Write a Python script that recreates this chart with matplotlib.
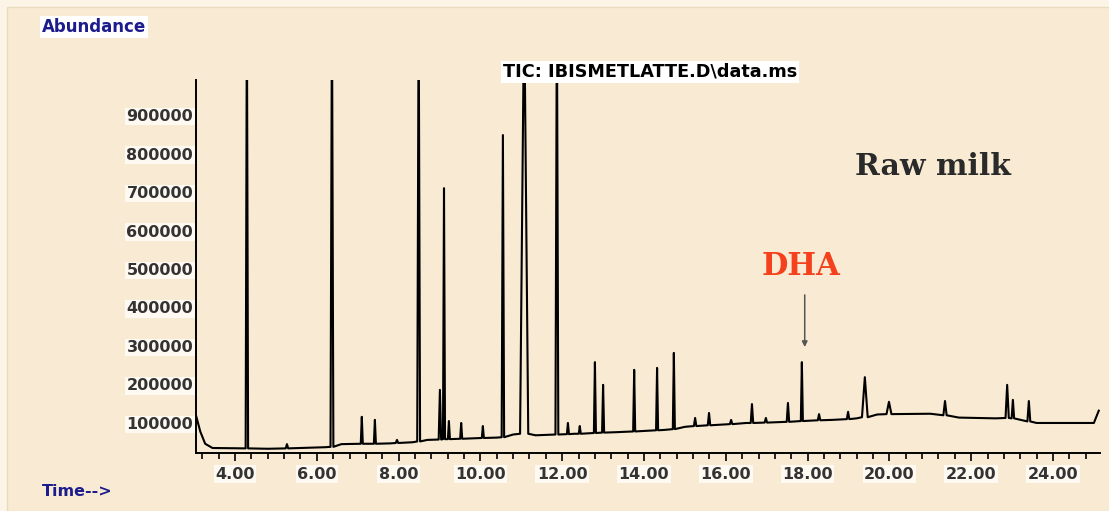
import numpy as np
import matplotlib
matplotlib.use("Agg")
import matplotlib.pyplot as plt
from matplotlib.patches import Rectangle
from matplotlib.ticker import MultipleLocator, FormatStrFormatter

# Chromatogram (time in min, abundance in counts)
# baseline points between the peaks
base_time = [3.05, 3.15, 3.27, 3.45, 4.8, 6.2, 6.6, 7.8, 8.35, 8.7, 9.8, 10.4,
             10.8, 11.35, 12.3, 13.3, 14.5, 15.0, 16.5, 17.7, 18.6, 19.2, 19.7,
             21.0, 21.7, 22.6, 23.6, 25.0, 25.12]
base_value = [118000, 78000, 46000, 35000, 33000, 37000, 45000, 47000, 50000,
              56000, 60000, 62000, 70000, 68000, 72000, 76000, 82000, 90000,
              100000, 104000, 108000, 112000, 122000, 124000, 114000, 112000,
              100000, 100000, 132000]

OFF_SCALE = 1200000  # peaks that run off the top of the plot

peak_time = [4.29, 5.27, 6.37, 7.10, 7.42, 7.96, 8.49, 9.01, 9.11, 9.23, 9.53,
             10.06, 10.55, 11.07, 11.87, 12.14, 12.43, 12.80, 13.00, 13.76,
             14.32, 14.73, 15.25, 15.59, 16.13, 16.64, 16.98, 17.52, 17.86,
             18.28, 18.99, 19.40, 19.99, 21.36, 22.88, 23.02, 23.41]
peak_height = [OFF_SCALE, 45000, OFF_SCALE, 116000, 108000, 56000, OFF_SCALE,
               186000, 710000, 105000, 100000, 92000, 848000, OFF_SCALE,
               OFF_SCALE, 100000, 92000, 258000, 199000, 238000, 243000,
               282000, 113000, 126000, 108000, 149000, 113000, 152000, 258000,
               123000, 129000, 219000, 155000, 157000, 199000, 160000, 157000]
peak_base = [34000, 34000, 38000, 46000, 46000, 48000, 52000, 57000, 58000,
             58000, 59000, 61000, 63000, 72000, 70000, 71000, 72000, 74000,
             75000, 78000, 81000, 84000, 92000, 94000, 97000, 100000, 101000,
             103000, 105000, 107000, 110000, 115000, 123000, 120000, 113000,
             112000, 104000]
peak_halfwidth = [0.03, 0.03, 0.035, 0.025, 0.025, 0.03, 0.035, 0.03, 0.025,
                  0.025, 0.025, 0.025, 0.03, 0.10, 0.035, 0.025, 0.025, 0.025,
                  0.025, 0.025, 0.025, 0.025, 0.03, 0.03, 0.03, 0.03, 0.03,
                  0.03, 0.025, 0.03, 0.03, 0.07, 0.06, 0.04, 0.04, 0.03, 0.035]

dha_time = 17.86

x_ticks = [4, 6, 8, 10, 12, 14, 16, 18, 20, 22, 24]
y_ticks = [100000, 200000, 300000, 400000, 500000, 600000, 700000, 800000, 900000]

# build the trace: baseline points plus a narrow triangle for every peak
pts = list(zip(base_time, base_value))
for t, h, b, w in zip(peak_time, peak_height, peak_base, peak_halfwidth):
    pts += [(t - w, b), (t, h), (t + w, b)]
pts.sort(key=lambda p: p[0])
trace_t = np.array([p[0] for p in pts])
trace_v = np.array([p[1] for p in pts])

W, H = 1109, 511
fig = plt.figure(figsize=(W / 100, H / 100), dpi=100)
fig.patch.set_facecolor("#fcf5e7")
fig.add_artist(Rectangle((7 / W, 0), 1, 1 - 7 / H, transform=fig.transFigure,
                         facecolor="#f9ebd3", edgecolor="#eadbbf", lw=1, zorder=-10))

ax = fig.add_axes([196 / W, 1 - 453 / H, (1100 - 196) / W, (453 - 80) / H])
ax.set_facecolor("none")

ax.plot(trace_t, trace_v, color="black", lw=1.5, solid_joinstyle="round")

ax.set_xlim(3.046, 25.15)
ax.set_ylim(22000, 991000)

for side in ("top", "right"):
    ax.spines[side].set_visible(False)
for side in ("left", "bottom"):
    ax.spines[side].set_linewidth(1.4)
    ax.spines[side].set_color("black")

ax.set_xticks(x_ticks)
ax.xaxis.set_major_formatter(FormatStrFormatter("%.2f"))
ax.xaxis.set_minor_locator(MultipleLocator(0.4))
ax.set_yticks(y_ticks)
ax.yaxis.set_major_formatter(FormatStrFormatter("%d"))

ax.tick_params(axis="x", which="major", direction="out", length=6, width=1.2,
               pad=4, labelsize=11.5, labelcolor="#333333")
ax.tick_params(axis="x", which="minor", direction="out", length=4, width=1.2)
ax.tick_params(axis="y", length=0, pad=2, labelsize=11.5, labelcolor="#333333")

label_box = dict(facecolor="#fefaf2", edgecolor="none", pad=1)
for lbl in ax.get_xticklabels() + ax.get_yticklabels():
    lbl.set_fontweight("bold")
    lbl.set_bbox(label_box)

# header texts
fig.text(42 / W, 1 - 27 / H, "Abundance", ha="left", va="center", fontsize=12,
         fontweight="bold", color="#1c1c8c",
         bbox=dict(facecolor="white", edgecolor="none", pad=1.5))
fig.text(42 / W, 1 - 492 / H, "Time-->", ha="left", va="center", fontsize=11.5,
         fontweight="bold", color="#1c1c8c")
fig.text(650 / W, 1 - 72 / H, "TIC: IBISMETLATTE.D\\data.ms", ha="center",
         va="center", fontsize=12.7, fontweight="bold", color="black",
         bbox=dict(facecolor="white", edgecolor="none", pad=1.5))

fig.text(855 / W, 1 - 175 / H, "Raw milk", ha="left", va="baseline",
         fontsize=21.5, fontweight="bold", family="DejaVu Serif", color="#2a2a2a")

ax.text(dha_time - 0.03, 484000, "DHA", ha="center", va="baseline", fontsize=22,
        fontweight="bold", family="DejaVu Serif", color="#f4401c")
ax.annotate("", xy=(dha_time + 0.07, 290000), xytext=(dha_time + 0.07, 440000),
            arrowprops=dict(arrowstyle="-|>", color="#555555", lw=1.1,
                            mutation_scale=8))

fig.savefig("out.png", dpi=100, facecolor=fig.get_facecolor())
